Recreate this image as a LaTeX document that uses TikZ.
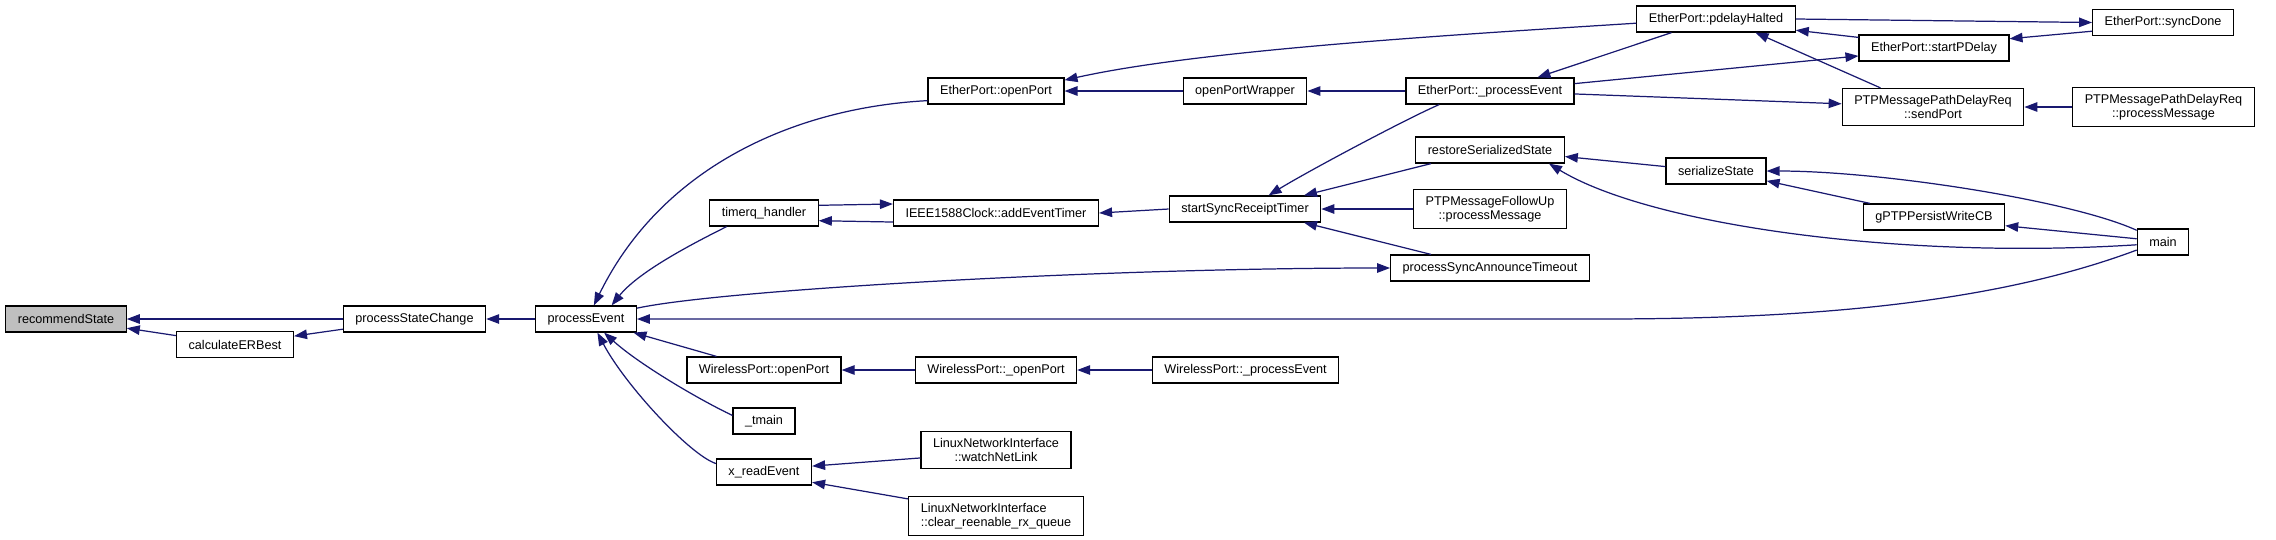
\documentclass[tikz,border=0pt]{standalone}
\usepackage{fontspec}
\setmainfont{Liberation Sans}
\usepackage{tikz}
\usepackage{xcolor}
\usetikzlibrary{arrows.meta}
\definecolor{edgeblue}{RGB}{25,25,112}

\begin{document}
\begin{tikzpicture}[
    x=0.02cm, y=-0.02cm,
    box/.style={draw, line width=0.7pt, fill=white, align=center, inner xsep=0.24cm, inner ysep=0.14cm,
      minimum height=0.52cm, font=\fontsize{7.2}{7.8}\selectfont},
    startbox/.style={box, fill=gray!50},
    arrow/.style={-{Triangle[length=0.26cm, width=0.19cm]}, draw=edgeblue, line width=0.7pt}
  ]
    \useasboundingbox (0,0) rectangle (2276,539);
    % nodes, left to right
    \node[startbox] (recommend) at (66,319) {recommendState};
    \node[box] (erbest) at (235,344.5) {calculateERBest};
    \node[box] (statechange) at (414.5,319) {processStateChange};
    \node[box] (procevent) at (586,319) {processEvent};
    \node[box] (timerq) at (764,213) {timerq\_handler};
    \node[box] (wopen) at (764,370) {WirelessPort::openPort};
    \node[box] (tmain) at (764,421) {\_tmain};
    \node[box] (readevent) at (764,472) {x\_readEvent};
    \node[box] (eopen) at (996,91) {EtherPort::openPort};
    \node[box] (addtimer) at (996,213) {IEEE1588Clock::addEventTimer};
    \node[box] (wopenpriv) at (996,370) {WirelessPort::\_openPort};
    \node[box] (netlink) at (996,450) {LinuxNetworkInterface\\::watchNetLink};
    \node[box, align=left] (rxqueue) at (996,516) {LinuxNetworkInterface\\::clear\_reenable\_rx\_queue};
    \node[box] (wrapper) at (1245,91) {openPortWrapper};
    \node[box] (synctimer) at (1245,209) {startSyncReceiptTimer};
    \node[box] (wevent) at (1245.5,370) {WirelessPort::\_processEvent};
    \node[box] (eevent) at (1490,91) {EtherPort::\_processEvent};
    \node[box] (restore) at (1490,150) {restoreSerializedState};
    \node[box] (followup) at (1490,209) {PTPMessageFollowUp\\::processMessage};
    \node[box] (announce) at (1490,268) {processSyncAnnounceTimeout};
    \node[box] (halted) at (1716,19) {EtherPort::pdelayHalted};
    \node[box] (serialize) at (1716,171) {serializeState};
    \node[box] (startpd) at (1934,48) {EtherPort::startPDelay};
    \node[box] (sendport) at (1933,107) {PTPMessagePathDelayReq\\::sendPort};
    \node[box] (writecb) at (1934,217) {gPTPPersistWriteCB};
    \node[box] (syncdone) at (2163,22.5) {EtherPort::syncDone};
    \node[box] (pdmsg) at (2163.5,107) {PTPMessagePathDelayReq\\::processMessage};
    \node[box] (main) at (2163,242) {main};
    % calls
    \draw[arrow] (statechange) -- (recommend);
    \draw[arrow] (erbest) -- (recommend);
    \draw[arrow] (statechange) -- (erbest);
    \draw[arrow] (procevent) -- (statechange);
    \draw[arrow] (eopen.-172) .. controls (790,108) and (660,170) .. (procevent.60);
    \draw[arrow] (timerq.-160) .. controls (700,240) and (640,270) .. (procevent.28);
    \draw[arrow] (procevent.12) .. controls (720,290) and (1100,268) .. (announce.west);
    \draw[arrow] (main.-163) .. controls (1990,305) and (1800,319) .. (1600,319) -- (procevent.east);
    \draw[arrow] (wopen) -- (procevent);
    \draw[arrow] (tmain.170) .. controls (700,400) and (640,365) .. (procevent.-37);
    \draw[arrow] (readevent.170) .. controls (690,455) and (625,385) .. (procevent.-50);
    \draw[arrow] (wrapper) -- (eopen);
    \draw[arrow] (halted.-177) .. controls (1450,35) and (1200,50) .. (eopen.9);
    \draw[arrow] (eevent) -- (wrapper);
    \draw[arrow] (timerq.8) -- (addtimer.175);
    \draw[arrow] (addtimer.-175) -- (timerq.-8);
    \draw[arrow] (synctimer.west) -- (addtimer.east);
    \draw[arrow] (eevent.-165) .. controls (1410,117) and (1310,170) .. (synctimer.30);
    \draw[arrow] (restore.-167) -- (synctimer.13);
    \draw[arrow] (followup) -- (synctimer);
    \draw[arrow] (announce.167) -- (synctimer.-13);
    \draw[arrow] (wopenpriv) -- (wopen);
    \draw[arrow] (wevent) -- (wopenpriv);
    \draw[arrow] (netlink.-174) -- (readevent.7);
    \draw[arrow] (rxqueue.169) -- (readevent.-12);
    \draw[arrow] (halted.-163) -- (eevent.16);
    \draw[arrow] (eevent.5) -- (startpd.-174);
    \draw[arrow] (eevent.-2) -- (sendport.178);
    \draw[arrow] (startpd.172) -- (halted.-8);
    \draw[arrow] (sendport.160) -- (halted.-19.5);
    \draw[arrow] (halted.east) -- (syncdone.west);
    \draw[arrow] (syncdone.-173) -- (startpd.7);
    \draw[arrow] (pdmsg) -- (sendport);
    \draw[arrow] (serialize.175) -- (restore.-5);
    \draw[arrow] (main.-174) .. controls (1900,260) and (1650,225) .. (restore.-13);
    \draw[arrow] (main.156) .. controls (2070,200) and (1880,171) .. (serialize.east);
    \draw[arrow] (writecb.168) -- (serialize.-11);
    \draw[arrow] (main.173) -- (writecb.-7);
  \end{tikzpicture}
\end{document}
